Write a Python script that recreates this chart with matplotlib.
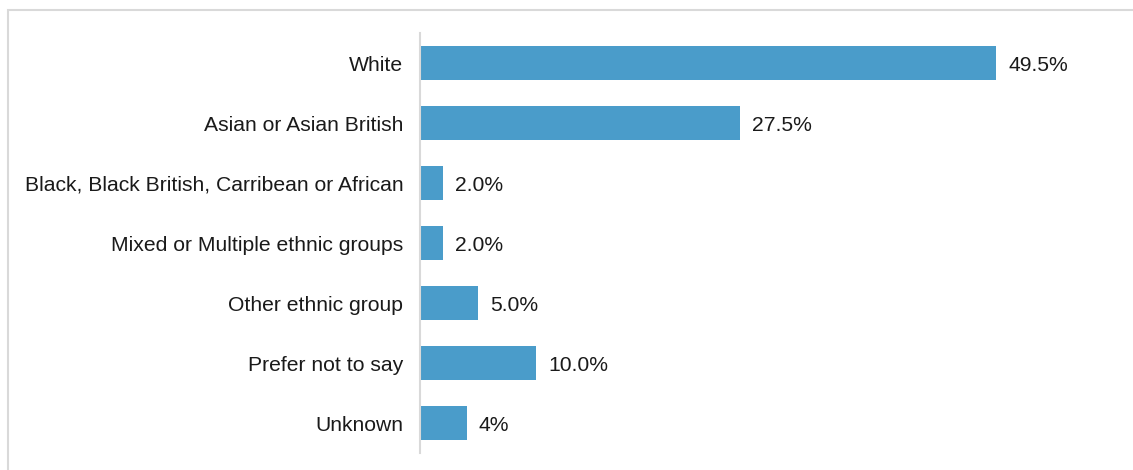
import matplotlib.pyplot as plt
from matplotlib.patches import Rectangle

plt.rcParams['font.family'] = ['Liberation Sans', 'DejaVu Sans']

# ethnicity breakdown, top to bottom
groups = ["White", "Asian or Asian British",
          "Black, Black British, Carribean or African",
          "Mixed or Multiple ethnic groups", "Other ethnic group",
          "Prefer not to say", "Unknown"]
shares = [49.5, 27.5, 2.0, 2.0, 5.0, 10.0, 4.0]
share_labels = ["49.5%", "27.5%", "2.0%", "2.0%", "5.0%", "10.0%", "4%"]

fig = plt.figure(figsize=(11.33, 4.7), dpi=100)
ax = fig.add_axes([420 / 1133, 17 / 470, 680 / 1133, 420 / 470])

pos = range(len(groups))
bars = ax.barh(pos, shares, height=0.58, color='#4a9cca')
ax.set_ylim(len(groups) - 0.5, -0.5)
ax.set_xlim(0, 680 / 11.64)

ax.set_yticks(list(pos))
ax.set_yticklabels(groups, fontsize=15.2, color='#1a1a1a', va='center_baseline')
ax.tick_params(axis='y', length=0, pad=12)
ax.set_xticks([])

for s in ['top', 'right', 'bottom']:
    ax.spines[s].set_visible(False)
ax.spines['left'].set_color('#d9d9d9')
ax.spines['left'].set_linewidth(1.5)

for b, txt in zip(bars, share_labels):
    ax.annotate(txt, (b.get_width(), b.get_y() + b.get_height() / 2),
                xytext=(12, 0), textcoords='offset pixels',
                va='center_baseline', ha='left', fontsize=15.2, color='#1a1a1a')

# light frame around the chart area
fig.patches.append(Rectangle((8 / 1133, -0.1), 1.2, 1 - 10 / 470 + 0.1,
                             transform=fig.transFigure, fill=False,
                             edgecolor='#d9d9d9', linewidth=1.5))

fig.savefig('out.png', dpi=100)
